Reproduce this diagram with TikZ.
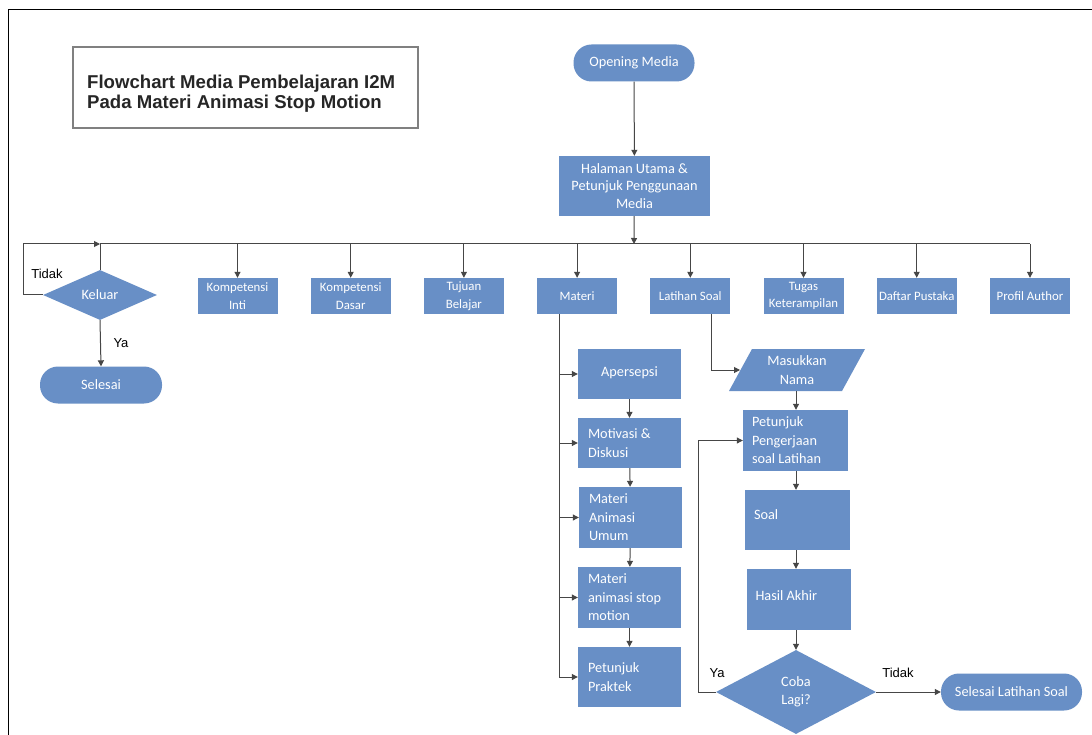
\documentclass[tikz,border=0pt]{standalone}
\usepackage{fontspec}
\setmainfont{Carlito}
\newfontfamily\arialf{Liberation Sans}
\usetikzlibrary{arrows.meta,shapes.geometric}
\definecolor{bfill}{RGB}{104,143,198}
\definecolor{lcol}{RGB}{70,70,70}
\begin{document}
\begin{tikzpicture}[x=1pt,y=-1pt,
  txt/.style={font=\fontsize{14.3}{18.5}\selectfont, text=white},
  small/.style={font=\fontsize{12.8}{17.5}\selectfont},
  bx/.style={txt, fill=bfill, draw=none, inner sep=0pt, align=center, minimum width=#1},
  bx/.default=80pt,
  rowbox/.style={bx, small, minimum height=36pt},
  subbox/.style={bx=103pt, minimum height=#1, align=flush left, text width=83pt},
  stad/.style={txt, fill=bfill, rounded corners=18pt, minimum height=37pt, inner sep=0pt},
  dia/.style={txt, fill=bfill, diamond, inner sep=0pt, align=center},
  conn/.style={draw=lcol, line width=1pt},
  arr/.style={conn, -{Triangle[length=6pt,width=6pt]}},
  lab/.style={font=\arialf\fontsize{13}{15}\selectfont, text=black}
]
\useasboundingbox (0,0) rectangle (1092,735);
\fill[white] (0,0) rectangle (1092,735);
% frame
\draw[line width=1.8pt, black] (8.5,735) -- (8.5,9.5) -- (1092,9.5);

% title
\node[draw=gray, line width=1.1pt, minimum width=345pt, minimum height=81pt, inner sep=0pt] (titlebox) at (245.5,87.5) {};
\node[anchor=west, align=left, font=\arialf\bfseries\fontsize{18.6}{20}\selectfont, text=black!85, inner sep=0pt] (title) at (87,94)
  {Flowchart Media Pembelajaran I2M\\Pada Materi Animasi Stop Motion};

% top
\node[stad, minimum width=121pt] (open) at (634,63) {Opening Media};
\node[bx=151pt, minimum height=60pt, font=\fontsize{14.3}{17.5}\selectfont] (home) at (634.5,186) {Halaman Utama \&\\Petunjuk Penggunaan\\Media};

\coordinate (hub) at (634,244);
\coordinate (busL) at (100,244);
\coordinate (busR) at (1030,244);

% row
\node[rowbox] (ki) at (237.5,296) {Kompetensi\\Inti};
\node[rowbox] (kd) at (350.7,296) {Kompetensi\\Dasar};
\node[rowbox] (tb) at (463.9,296) {Tujuan\\Belajar};
\node[rowbox] (mat) at (577.1,296) {Materi};
\node[rowbox] (lat) at (690.3,296) {Latihan Soal};
\node[rowbox] (tug) at (803.5,296) {Tugas\\Keterampilan};
\node[rowbox] (dp) at (916.7,296) {Daftar Pustaka};
\node[rowbox] (pa) at (1030,296) {Profil Author};

% keluar
\node[dia, minimum width=114pt, minimum height=50pt] (kel) at (100,295) {Keluar};
\node[stad, minimum width=122pt] (sel) at (101,385) {Selesai};
\node[lab] (ltidak1) at (47,274) {Tidak};
\node[lab] (lya1) at (121,343) {Ya};

% materi column
\node[subbox=50pt, align=center] (aper) at (629.5,374) {\raisebox{5pt}{Apersepsi}};
\node[subbox=50pt] (moti) at (629.5,443) {Motivasi \&\\Diskusi};
\node[subbox=61pt] (umum) at (630.5,517.5) {Materi\\Animasi\\Umum};
\node[subbox=61pt] (stop) at (629.5,597.5) {Materi\\animasi stop\\motion};
\node[subbox=60pt] (prak) at (629.5,677) {Petunjuk\\Praktek\\[4pt]};
\coordinate (mtop) at (559,314);
\coordinate (mbot) at (559,677);

% latihan column
\coordinate (ltop) at (711,314);
\fill[bfill] (752,349) -- (865,349) -- (842,391) -- (729,391) -- cycle;
\node[txt, align=center, minimum width=113pt, minimum height=42pt, inner sep=0pt] (mas) at (797,370) {Masukkan\\Nama};
\node[bx=105pt, minimum height=61pt, align=flush left, text width=87pt] (pet) at (795.5,440.5) {Petunjuk\\Pengerjaan\\soal Latihan};
\node[bx=105pt, minimum height=60pt, align=flush left, text width=87pt] (soal) at (797.5,520) {\raisebox{10pt}{Soal}};
\node[bx=104pt, minimum height=61pt, align=flush left, text width=87pt] (has) at (799,599.5) {\raisebox{8pt}{Hasil Akhir}};
\node[dia, minimum width=160pt, minimum height=84pt] (coba) at (796,692) {Coba\\Lagi?};
\node[stad, minimum width=141pt] (sellat) at (1011.5,692) {Selesai Latihan Soal};
\node[lab] (lya2) at (717,673) {Ya};
\node[lab] (ltidak2) at (898,673) {Tidak};

% connectors top
\draw[arr] (open) -- (home);
\draw[arr] (home) -- (hub);
\draw[conn] (busL) -- (busR);
\foreach \n in {ki,kd,tb,mat,lat,tug,dp,pa} {
  \draw[arr] (\n |- hub) -- (\n.north);
}
\draw[conn] (busL) -- (kel.north);
\draw[arr] (kel.west) -- ++(-19,0) |- (busL);
\draw[arr] (kel.south) -- (sel.north);

% materi connectors
\draw[conn] (mtop) -- (mbot);
\foreach \n in {aper,moti,umum,stop,prak} {
  \draw[arr] (mtop |- \n) -- (\n.west);
}
\draw[arr] (aper) -- (moti);
\draw[arr] (moti) -- (umum);
\draw[arr] (umum) -- (stop);
\draw[arr] (stop) -- (prak);

% latihan connectors
\draw[arr] (ltop) |- (740,370);
\draw[arr] (mas.south -| 796,0) -- (pet.north -| 796,0);
\draw[arr] (pet.south -| 796,0) -- (soal.north -| 796,0);
\draw[arr] (soal.south -| 796,0) -- (has.north -| 796,0);
\draw[arr] (has.south -| 796,0) -- (coba.north);
\draw[arr] (coba.west) -- ++(-17,0) |- (pet.west);
\draw[arr] (coba.east) -- (sellat.west);
\end{tikzpicture}
\end{document}
